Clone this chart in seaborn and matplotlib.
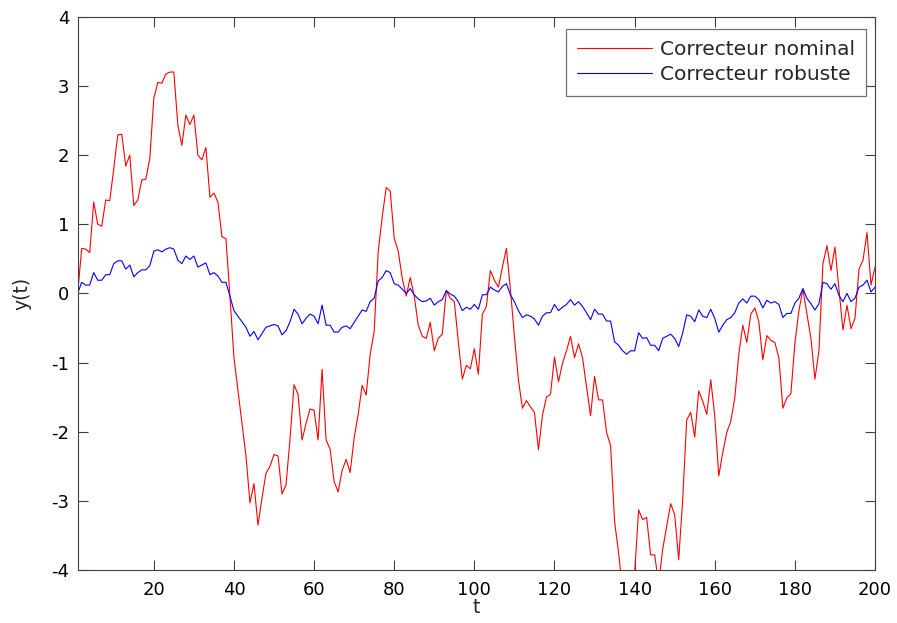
import numpy as np
import pandas as pd
import matplotlib
matplotlib.use("Agg")
import matplotlib.pyplot as plt
import seaborn as sns

# Time steps
t = list(range(1, 201))

# Output with the nominal controller
y_nominal = [
    0.00, 0.65, 0.64, 0.59, 1.32, 1.00, 0.97, 1.35, 1.34, 1.80,
    2.29, 2.30, 1.84, 2.00, 1.27, 1.35, 1.64, 1.65, 1.95, 2.82,
    3.05, 3.04, 3.17, 3.20, 3.20, 2.43, 2.14, 2.58, 2.44, 2.58,
    2.00, 1.93, 2.11, 1.39, 1.45, 1.32, 0.82, 0.79, -0.04, -0.93,
    -1.40, -1.88, -2.35, -3.03, -2.75, -3.35, -2.96, -2.60, -2.50, -2.33,
    -2.35, -2.90, -2.77, -2.10, -1.32, -1.46, -2.12, -1.88, -1.67, -1.69,
    -2.12, -1.10, -2.12, -2.25, -2.72, -2.87, -2.56, -2.40, -2.59, -2.09,
    -1.75, -1.33, -1.47, -0.88, -0.55, 0.60, 1.10, 1.53, 1.48, 0.80,
    0.61, 0.22, -0.04, 0.23, -0.04, -0.46, -0.62, -0.65, -0.42, -0.83,
    -0.65, -0.59, 0.04, -0.07, -0.12, -0.70, -1.24, -1.04, -1.09, -0.80,
    -1.17, -0.30, -0.19, 0.33, 0.19, 0.09, 0.38, 0.65, 0.06, -0.62,
    -1.25, -1.66, -1.55, -1.64, -1.72, -2.26, -1.76, -1.50, -1.46, -0.92,
    -1.28, -1.01, -0.83, -0.62, -0.93, -0.73, -0.93, -1.35, -1.77, -1.20,
    -1.54, -1.54, -2.01, -2.20, -3.30, -3.75, -4.30, -4.50, -4.40, -4.05,
    -3.13, -3.27, -3.24, -3.78, -3.78, -4.20, -3.70, -3.37, -3.04, -3.20,
    -3.85, -2.98, -1.83, -1.72, -2.08, -1.41, -1.56, -1.75, -1.25, -1.77,
    -2.64, -2.30, -2.01, -1.85, -1.51, -0.88, -0.46, -0.71, -0.30, -0.21,
    -0.41, -0.96, -0.61, -0.68, -0.71, -0.93, -1.66, -1.51, -1.45, -0.72,
    -0.25, 0.06, -0.30, -0.65, -1.24, -0.83, 0.43, 0.69, 0.33, 0.67,
    0.06, -0.53, -0.17, -0.51, -0.36, 0.35, 0.48, 0.88, 0.12, 0.38,
]

# Output with the robust controller
y_robust = [
    0.00, 0.16, 0.12, 0.12, 0.30, 0.19, 0.19, 0.27, 0.27, 0.43,
    0.47, 0.47, 0.35, 0.41, 0.24, 0.30, 0.34, 0.34, 0.40, 0.61,
    0.63, 0.60, 0.64, 0.66, 0.64, 0.48, 0.43, 0.54, 0.49, 0.54,
    0.38, 0.41, 0.44, 0.27, 0.30, 0.25, 0.16, 0.16, -0.04, -0.25,
    -0.33, -0.41, -0.49, -0.62, -0.55, -0.67, -0.58, -0.49, -0.47, -0.45,
    -0.47, -0.60, -0.54, -0.41, -0.23, -0.30, -0.44, -0.36, -0.30, -0.33,
    -0.44, -0.17, -0.46, -0.46, -0.56, -0.56, -0.49, -0.47, -0.51, -0.42,
    -0.33, -0.24, -0.26, -0.12, -0.07, 0.18, 0.23, 0.33, 0.30, 0.14,
    0.12, 0.06, 0.00, 0.07, -0.02, -0.08, -0.12, -0.11, -0.07, -0.17,
    -0.12, -0.09, 0.04, -0.01, -0.04, -0.12, -0.25, -0.20, -0.23, -0.16,
    -0.23, -0.02, -0.02, 0.09, 0.05, 0.02, 0.10, 0.14, -0.02, -0.12,
    -0.25, -0.35, -0.31, -0.33, -0.37, -0.46, -0.33, -0.28, -0.28, -0.16,
    -0.25, -0.20, -0.16, -0.09, -0.17, -0.12, -0.19, -0.28, -0.38, -0.23,
    -0.30, -0.30, -0.40, -0.40, -0.70, -0.75, -0.83, -0.88, -0.83, -0.83,
    -0.57, -0.65, -0.64, -0.75, -0.75, -0.83, -0.65, -0.62, -0.59, -0.65,
    -0.77, -0.57, -0.31, -0.33, -0.41, -0.24, -0.33, -0.35, -0.23, -0.36,
    -0.56, -0.46, -0.38, -0.35, -0.28, -0.14, -0.08, -0.14, -0.04, -0.04,
    -0.09, -0.21, -0.10, -0.14, -0.12, -0.16, -0.35, -0.29, -0.29, -0.14,
    -0.07, 0.07, -0.07, -0.15, -0.24, -0.15, 0.16, 0.14, 0.06, 0.14,
    -0.03, -0.12, 0.00, -0.12, -0.07, 0.09, 0.12, 0.19, 0.02, 0.09,
]

series_names = ["Correcteur nominal", "Correcteur robuste"]
series_colors = ["#ff0000", "#0000ff"]
x_ticks = list(range(20, 201, 20))
y_ticks = list(range(-4, 5))

df = pd.concat([
    pd.DataFrame({"t": t, "y": y_nominal, "serie": series_names[0]}),
    pd.DataFrame({"t": t, "y": y_robust, "serie": series_names[1]}),
])

sns.set_style("white")
plt.rcParams["font.family"] = ["DejaVu Sans"]
plt.rcParams["axes.unicode_minus"] = False

fig = plt.figure(figsize=(8.97, 6.23), dpi=100)
ax = fig.add_axes([0.0866, 0.085, 0.8889, 0.8882])

sns.lineplot(data=df, x="t", y="y", hue="serie", palette=series_colors,
             hue_order=series_names, linewidth=0.8, ax=ax, legend=True)

ax.set_xlim(1, 200)
ax.set_ylim(-4, 4)
ax.set_xticks(x_ticks)
ax.set_yticks(y_ticks)
ax.set_xlabel("t", fontsize=13.5, labelpad=-1)
ax.set_ylabel("y(t)", fontsize=13.5, labelpad=14)
ax.tick_params(direction="in", length=7, width=0.8, colors="#404040",
               labelcolor="black", labelsize=13, top=True, right=True,
               left=True, bottom=True)
ax.tick_params(axis="x", pad=8)
ax.tick_params(axis="y", pad=6)
for s in ax.spines.values():
    s.set_visible(True)
    s.set_color("#404040")
    s.set_linewidth(0.8)

leg = ax.legend(loc="upper right", bbox_to_anchor=(0.9887, 0.9772),
                borderaxespad=0, fontsize=14.5, frameon=True, fancybox=False,
                handlelength=3.7, handletextpad=0.4, borderpad=0.55,
                labelspacing=0.3, edgecolor="#707070", framealpha=1)
leg.get_frame().set_linewidth(0.9)

fig.savefig("out.png", dpi=100, facecolor="white")
